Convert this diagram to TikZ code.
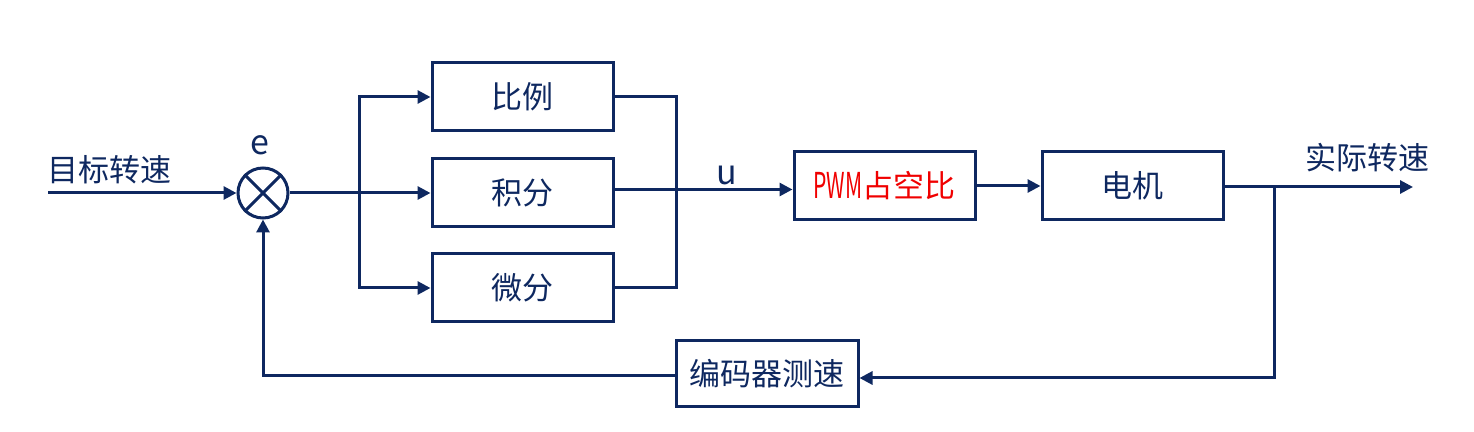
\documentclass[tikz,border=0pt]{standalone}
\usepackage{fontspec}
\setmainfont{Noto Sans CJK SC}
\usetikzlibrary{arrows.meta}
\definecolor{navy}{RGB}{14,40,96}
\definecolor{pwmred}{RGB}{240,0,0}
\begin{document}
\begin{tikzpicture}[x=0.5pt,y=-0.5pt,
  line/.style={draw=navy,line width=1.5pt},
  arr/.style={line,-{Triangle[length=6.5pt,width=6.5pt]}},
  blk/.style={draw=navy,line width=1.5pt,minimum width=90.5pt,minimum height=34pt,inner sep=0pt,font=\fontsize{15.5}{16}\selectfont,text=navy},
  lbl/.style={font=\fontsize{15.5}{16}\selectfont,text=navy,inner sep=0pt}]
\useasboundingbox (0,0) rectangle (1474,432);
% summing junction
\node[circle,draw=navy,line width=1.5pt,minimum size=25pt,inner sep=0pt] (s) at (263,193) {};
\draw[line] (s.north west) -- (s.south east);
\draw[line] (s.north east) -- (s.south west);
\node[lbl,font=\fontsize{17}{18}\selectfont] (e) at (260,145) {e};
% blocks
\node[blk] (p) at (522.5,97) {比例};
\node[blk] (i) at (522.5,192.5) {积分};
\node[blk] (d) at (522.5,288) {微分};
\node[blk,text=pwmred] (pwm) at (884.5,186) {\raisebox{-0.3pt}{\scalebox{0.68}[1.15]{PWM}}占空比};
\node[blk] (m) at (1132.5,186) {电机};
\node[blk,minimum width=91pt,minimum height=33pt] (enc) at (767,374) {编码器测速};
% labels
\node[lbl,anchor=west] (tin) at (47,170) {目标转速};
\node[lbl] (tout) at (1367,158) {实际转速};
\node[lbl,font=\fontsize{17}{18}\selectfont] (u) at (727,175) {u};
% coordinates
\coordinate (in) at (48,193);
\coordinate (j1) at (359,193);
\coordinate (r) at (676,193);
\coordinate (out) at (1413,187);
\coordinate (fb) at (1274,187);
\coordinate (fbb) at (1274,378);
\coordinate (fl) at (263,376);
% connectors
\draw[arr] (in) -- (s.west);
\draw[line] (s.east) -- (j1);
\draw[arr] (j1) |- (p.west);
\draw[arr] (j1) -- (j1 -| i.west);
\draw[arr] (j1) |- (d.west);
\draw[line] (p.east) -- (p.east -| r) -- (d.east -| r) -- (d.east);
\draw[arr] ([yshift=1.5pt]i.east) -- ([yshift=1.5pt]i.east -| pwm.west);
\draw[arr] (pwm.east) -- (m.west);
\draw[arr] ([yshift=-0.5pt]m.east) -- (out);
\draw[arr] (fb) -- (fbb) -- (fbb -| enc.east);
\draw[arr] ([yshift=-1pt]enc.west) -| (s.south);
\end{tikzpicture}
\end{document}
